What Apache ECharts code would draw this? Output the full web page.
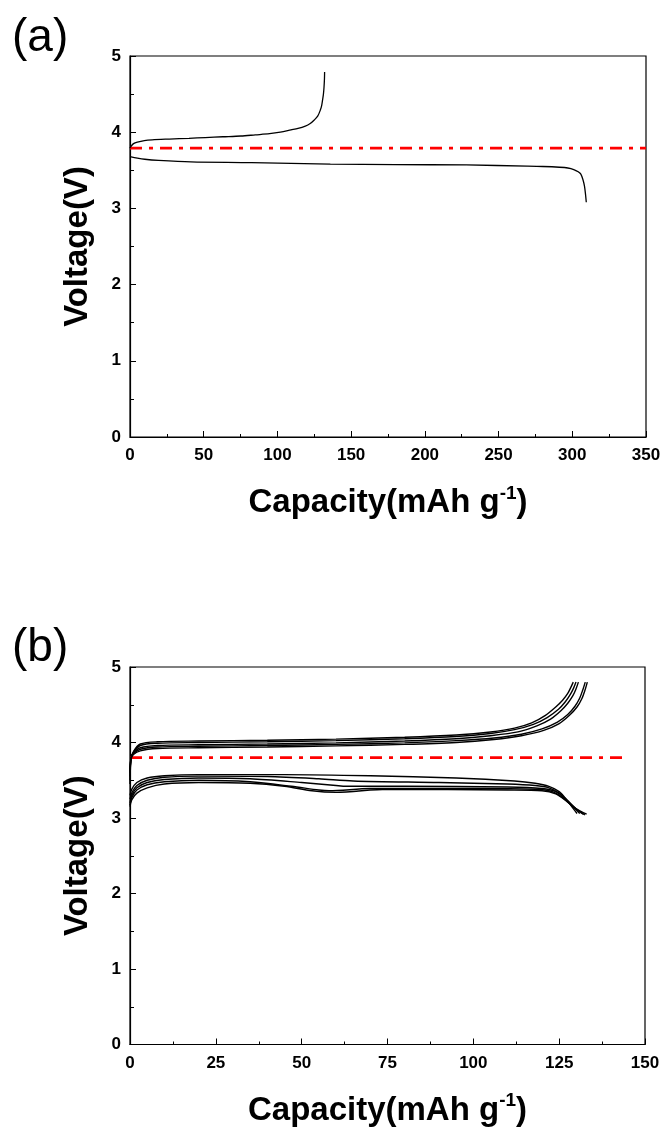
<!DOCTYPE html>
<html>
<head>
<meta charset="utf-8">
<script src="https://cdn.jsdelivr.net/npm/echarts@6/dist/echarts.min.js"></script>
<style>
html,body{margin:0;padding:0;background:#fff;}
#chart{width:666px;height:1128px;}
</style>
</head>
<body>
<div id="chart"></div>
<script>
// ---------- Panel (a) data ----------
const aXTicks = [0, 50, 100, 150, 200, 250, 300, 350];
const aChargeCap = [0, 0.5, 2.4, 5, 9.7, 15, 26.7, 40, 51, 63, 75.2, 85, 94.7, 102, 109.2, 114, 118.9, 122, 125, 127.3, 129.1, 130, 130.6, 131.2, 131.6, 131.9, 132];
const aChargeV   = [3.79, 3.81, 3.85, 3.87, 3.89, 3.90, 3.91, 3.92, 3.93, 3.94, 3.95, 3.965, 3.98, 4.0, 4.03, 4.05, 4.08, 4.11, 4.16, 4.21, 4.29, 4.35, 4.42, 4.5, 4.59, 4.7, 4.79];
const aDisCap = [0, 5, 10, 19.4, 41.3, 82.5, 135.9, 180, 228.2, 269.4, 280, 291.3, 297, 301, 304, 305.8, 307.2, 308.3, 309, 309.5];
const aDisV   = [3.68, 3.66, 3.645, 3.63, 3.61, 3.60, 3.58, 3.575, 3.57, 3.555, 3.55, 3.54, 3.53, 3.51, 3.48, 3.45, 3.38, 3.29, 3.18, 3.08];
const aRefCap = [0, 350];
const aRefV   = [3.79, 3.79];

// ---------- Panel (b) data ----------
const bXTicks = [0, 25, 50, 75, 100, 125, 150];
const bC1Cap = [0, 0.3, 1, 3, 8, 20, 40, 60, 80, 95, 105, 112, 117, 121, 124, 126, 127.5, 128.4, 129.1];
const bC1V   = [3.45, 3.78, 3.88, 3.98, 4.01, 4.02, 4.03, 4.045, 4.07, 4.10, 4.14, 4.19, 4.26, 4.36, 4.47, 4.56, 4.65, 4.73, 4.8];
const bC2Cap = [0, 0.3, 1, 3, 8, 20, 40, 60, 80, 95, 105, 112, 117.5, 121.5, 124.8, 126.8, 128.3, 129.2, 129.9];
const bC2V   = [3.5, 3.8, 3.87, 3.96, 3.99, 4.0, 4.01, 4.025, 4.05, 4.08, 4.12, 4.17, 4.24, 4.33, 4.44, 4.54, 4.64, 4.72, 4.8];
const bC3Cap = [0, 0.3, 1, 3, 8, 20, 40, 60, 80, 95, 105, 113, 118.5, 122.5, 125.5, 127.5, 129, 129.9, 130.6];
const bC3V   = [3.55, 3.8, 3.86, 3.93, 3.96, 3.97, 3.98, 3.995, 4.02, 4.05, 4.09, 4.14, 4.22, 4.31, 4.42, 4.52, 4.62, 4.71, 4.8];
const bC4Cap = [0, 0.3, 1, 3, 8, 20, 40, 60, 80, 95, 106, 114, 120, 124.5, 127.5, 129.6, 131, 131.9, 132.6];
const bC4V   = [3.6, 3.79, 3.85, 3.91, 3.94, 3.95, 3.96, 3.975, 3.995, 4.025, 4.06, 4.11, 4.18, 4.27, 4.37, 4.48, 4.59, 4.7, 4.8];
const bC5Cap = [0, 0.3, 1, 3, 8, 20, 40, 60, 80, 95, 106, 114, 120.5, 125, 128, 130.2, 131.6, 132.5, 133.2];
const bC5V   = [3.62, 3.78, 3.84, 3.89, 3.92, 3.93, 3.94, 3.955, 3.975, 4.0, 4.04, 4.09, 4.16, 4.25, 4.36, 4.47, 4.58, 4.69, 4.8];

const bD1Cap = [0, 0.5, 2, 5, 10, 20, 45, 70, 95, 112, 118, 122, 125, 127, 129, 130.2];
const bD1V   = [3.30, 3.38, 3.47, 3.53, 3.56, 3.575, 3.575, 3.56, 3.53, 3.49, 3.46, 3.42, 3.35, 3.25, 3.13, 3.06];
const bD2Cap = [0, 0.5, 2, 5, 10, 20, 40, 55, 65, 90, 110, 118, 122, 125, 128, 131];
const bD2V   = [3.25, 3.33, 3.43, 3.50, 3.54, 3.555, 3.55, 3.52, 3.49, 3.47, 3.45, 3.43, 3.40, 3.33, 3.20, 3.06];
const bD3Cap = [0, 0.5, 2, 5, 10, 20, 35, 50, 60, 63, 80, 110, 120, 124, 127, 130, 132];
const bD3V   = [3.20, 3.30, 3.40, 3.47, 3.51, 3.53, 3.52, 3.47, 3.43, 3.42, 3.42, 3.41, 3.39, 3.35, 3.25, 3.12, 3.05];
const bD4Cap = [0, 0.5, 2, 5, 10, 20, 35, 47, 55, 58, 70, 100, 118, 123, 126, 129, 132.5];
const bD4V   = [3.17, 3.27, 3.37, 3.44, 3.48, 3.50, 3.48, 3.42, 3.37, 3.36, 3.39, 3.39, 3.38, 3.35, 3.27, 3.15, 3.04];
const bD5Cap = [0, 0.5, 2, 5, 10, 20, 35, 45, 53, 60, 75, 110, 120, 124, 127, 130, 133];
const bD5V   = [3.15, 3.24, 3.33, 3.40, 3.45, 3.47, 3.46, 3.42, 3.36, 3.34, 3.38, 3.37, 3.36, 3.32, 3.23, 3.12, 3.05];
const bRefCap = [0, 145];
const bRefV   = [3.8, 3.8];

const yTicks = [0, 1, 2, 3, 4, 5];

function zip(xs, ys) { return xs.map((x, i) => [x, ys[i]]); }

const FONT = '"Liberation Sans", Arial, sans-serif';
const labelStyle = { color: '#000', fontWeight: 'bold', fontSize: 17, fontFamily: FONT };
const nameRich = {
  rich: {
    b: { color: '#000', fontWeight: 'bold', fontSize: 33, fontFamily: FONT },
    s: { color: '#000', fontWeight: 'bold', fontSize: 19, fontFamily: FONT, verticalAlign: 'top', padding: [0, 0, 19, 0] }
  }
};

function xAxisCfg(gridIndex, ticks) {
  return {
    type: 'value', gridIndex: gridIndex,
    min: ticks[0], max: ticks[ticks.length - 1], interval: ticks[1] - ticks[0],
    name: '{b|Capacity(mAh g}{s|-1}{b|)}',
    nameLocation: 'middle', nameGap: 47,
    nameTextStyle: nameRich,
    axisLine: { show: true, onZero: false, lineStyle: { color: '#000', width: 1.2 } },
    axisTick: { show: true, inside: true, length: 6, lineStyle: { color: '#000', width: 1 } },
    minorTick: { show: true, splitNumber: 2, length: 3, lineStyle: { color: '#000', width: 1 } },
    axisLabel: Object.assign({ margin: 10 }, labelStyle),
    splitLine: { show: false }, minorSplitLine: { show: false }
  };
}
function yAxisCfg(gridIndex) {
  return {
    type: 'value', gridIndex: gridIndex,
    min: yTicks[0], max: yTicks[yTicks.length - 1], interval: 1,
    name: 'Voltage(V)', nameLocation: 'middle', nameGap: 36, nameRotate: 90,
    nameTextStyle: { color: '#000', fontWeight: 'bold', fontSize: 33, fontFamily: FONT },
    axisLine: { show: true, onZero: false, lineStyle: { color: '#000', width: 1.2 } },
    axisTick: { show: true, inside: true, length: 6, lineStyle: { color: '#000', width: 1 } },
    minorTick: { show: true, splitNumber: 2, length: 4, lineStyle: { color: '#000', width: 1 } },
    axisLabel: Object.assign({ margin: 9 }, labelStyle),
    splitLine: { show: false }, minorSplitLine: { show: false }
  };
}

function curve(xi, data, w) {
  return {
    type: 'line', xAxisIndex: xi, yAxisIndex: xi, data: data,
    showSymbol: false, symbol: 'none', smooth: 0.3, animation: false,
    lineStyle: { color: '#000', width: w || 1.3 }, z: 3
  };
}
function refLine(xi, data) {
  return {
    type: 'line', xAxisIndex: xi, yAxisIndex: xi, data: data,
    showSymbol: false, symbol: 'none', animation: false,
    lineStyle: { color: '#ff0000', width: 2.8, type: [12, 7, 4, 7] }, z: 2
  };
}

const chart = echarts.init(document.getElementById('chart'), null, { renderer: 'canvas' });
chart.setOption({
  backgroundColor: '#fff',
  animation: false,
  grid: [
    { left: 130, top: 56, width: 516, height: 381, show: true, borderColor: '#000', borderWidth: 1.2, backgroundColor: 'transparent' },
    { left: 130, top: 667, width: 515, height: 380, show: true, borderColor: '#000', borderWidth: 1.2, backgroundColor: 'transparent' }
  ],
  xAxis: [xAxisCfg(0, aXTicks), xAxisCfg(1, bXTicks)],
  yAxis: [yAxisCfg(0), yAxisCfg(1)],
  graphic: [
    { type: 'text', left: 12, top: 15, style: { text: '(a)', fontSize: 46, fontFamily: FONT, fill: '#000' } },
    { type: 'text', left: 12, top: 625, style: { text: '(b)', fontSize: 46, fontFamily: FONT, fill: '#000' } }
  ],
  series: [
    refLine(0, zip(aRefCap, aRefV)),
    curve(0, zip(aChargeCap, aChargeV)),
    curve(0, zip(aDisCap, aDisV)),
    refLine(1, zip(bRefCap, bRefV)),
    curve(1, zip(bC1Cap, bC1V), 1.4),
    curve(1, zip(bC2Cap, bC2V), 1.4),
    curve(1, zip(bC3Cap, bC3V), 1.4),
    curve(1, zip(bC4Cap, bC4V), 1.4),
    curve(1, zip(bC5Cap, bC5V), 1.4),
    curve(1, zip(bD1Cap, bD1V), 1.4),
    curve(1, zip(bD2Cap, bD2V), 1.4),
    curve(1, zip(bD3Cap, bD3V), 1.4),
    curve(1, zip(bD4Cap, bD4V), 1.4),
    curve(1, zip(bD5Cap, bD5V), 1.4)
  ]
});
</script>
</body>
</html>
